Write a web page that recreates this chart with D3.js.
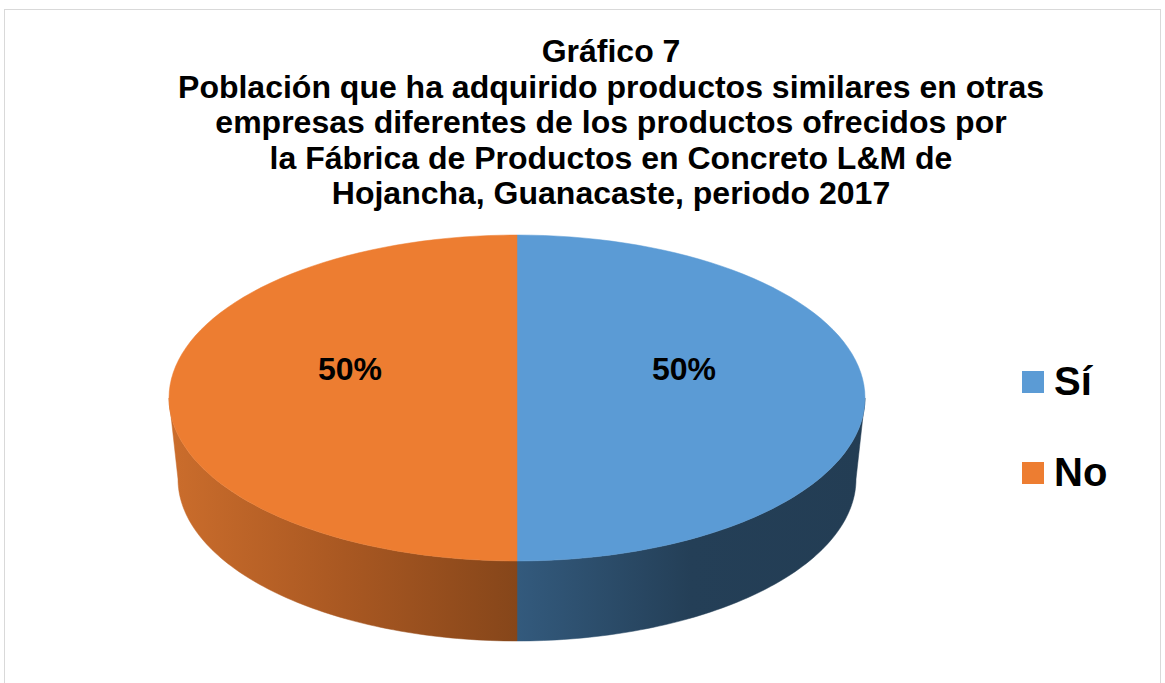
<!DOCTYPE html>
<html>
<head>
<meta charset="utf-8">
<script src="https://cdn.jsdelivr.net/npm/d3@7"></script>
<style>
  body { margin: 0; background: #fff; }
  svg { display: block; font-family: "Liberation Sans", Arial, sans-serif; }
</style>
</head>
<body>
<div id="chart"></div>
<script>
const categories = ['Sí', 'No'];
const values = [50, 50];
const titleLines = [
    'Gráfico 7',
    'Población que ha adquirido productos similares en otras',
    'empresas diferentes de los productos ofrecidos por',
    'la Fábrica de Productos en Concreto L&M de',
    'Hojancha, Guanacaste, periodo 2017'
];

const width = 1165, height = 683;
const topColors = { 'Sí': '#5B9BD5', 'No': '#ED7D31' };

const svg = d3.select('#chart').append('svg')
    .attr('width', width)
    .attr('height', height);

// frame
svg.append('rect')
    .attr('x', 4.5).attr('y', 9.5)
    .attr('width', 1156).attr('height', 700)
    .attr('fill', '#fff')
    .attr('stroke', '#d9d9d9');

// title
svg.append('g').selectAll('text')
    .data(titleLines)
    .join('text')
    .attr('x', 611)
    .attr('y', (d, i) => 62 + i * 35.5)
    .attr('text-anchor', 'middle')
    .style('font-size', '32px')
    .style('font-weight', 'bold')
    .text(d => d);

// 3d pie geometry (top ellipse and a slightly smaller bottom one)
const topE = { cx: 517, cy: 398, rx: 348, ry: 163 };
const botE = { cx: 517, cy: 479, rx: 339, ry: 162 };

const pt = (e, a) => [e.cx + e.rx * Math.sin(a), e.cy - e.ry * Math.cos(a)];

function arcPoints(e, a0, a1) {
    const n = 80, pts = [];
    for (let k = 0; k <= n; k++) pts.push(pt(e, a0 + (a1 - a0) * k / n));
    return pts;
}

const pie = d3.pie().sort(null).value(d => d.value);
const arcs = pie(categories.map((c, i) => ({ name: c, value: values[i] })));

const line = d3.line();

// side wall gradients, offset 0 at the outer edge, 1 at the middle of the pie
const defs = svg.append('defs');
const sideStops = {
    'Sí': [[0, '#233d54'], [0.5, '#243f57'], [1, '#335a7d']],
    'No': [[0, '#cb6d2c'], [0.5, '#a95822'], [1, '#86461a']]
};
arcs.forEach(a => {
    const a0 = Math.max(a.startAngle, Math.PI / 2);
    const a1 = Math.min(a.endAngle, Math.PI * 1.5);
    const xa = pt(topE, a0)[0], xb = pt(topE, a1)[0];
    const edge = Math.abs(xa - topE.cx) > Math.abs(xb - topE.cx) ? xa : xb;
    const g = defs.append('linearGradient')
        .attr('id', 'side-' + a.index)
        .attr('gradientUnits', 'userSpaceOnUse')
        .attr('x1', edge).attr('x2', topE.cx)
        .attr('y1', 0).attr('y2', 0);
    g.selectAll('stop')
        .data(sideStops[a.data.name])
        .join('stop')
        .attr('offset', d => d[0])
        .attr('stop-color', d => d[1]);
});

const pieG = svg.append('g');

// side walls (front part only)
arcs.forEach(a => {
    const a0 = Math.max(a.startAngle, Math.PI / 2);
    const a1 = Math.min(a.endAngle, Math.PI * 1.5);
    if (a1 <= a0) return;
    const pts = arcPoints(topE, a0, a1).concat(arcPoints(botE, a1, a0));
    pieG.append('path')
        .attr('d', line(pts) + 'Z')
        .attr('fill', `url(#side-${a.index})`)
        .attr('stroke', `url(#side-${a.index})`)
        .attr('stroke-width', 0.5);
});

// top faces
arcs.forEach(a => {
    const pts = [[topE.cx, topE.cy]].concat(arcPoints(topE, a.startAngle, a.endAngle));
    pieG.append('path')
        .attr('d', line(pts) + 'Z')
        .attr('fill', topColors[a.data.name])
        .attr('stroke', topColors[a.data.name])
        .attr('stroke-width', 0.5);
});

// labels
const total = d3.sum(values);
arcs.forEach(a => {
    const mid = (a.startAngle + a.endAngle) / 2;
    const lx = topE.cx + topE.rx * 0.48 * Math.sin(mid);
    const ly = topE.cy - 18;
    pieG.append('text')
        .attr('x', lx)
        .attr('y', ly)
        .attr('text-anchor', 'middle')
        .style('font-size', '32px')
        .style('font-weight', 'bold')
        .text(Math.round(a.value / total * 100) + '%');
});

// legend
const legend = svg.append('g').attr('transform', 'translate(1022,371)');
const item = legend.selectAll('g')
    .data(categories)
    .join('g')
    .attr('transform', (d, i) => `translate(0,${i * 91})`);
item.append('rect')
    .attr('width', 22).attr('height', 22)
    .attr('fill', d => topColors[d]);
item.append('text')
    .attr('x', 32)
    .attr('y', 24)
    .style('font-size', '40px')
    .style('font-weight', 'bold')
    .text(d => d);
</script>
</body>
</html>
